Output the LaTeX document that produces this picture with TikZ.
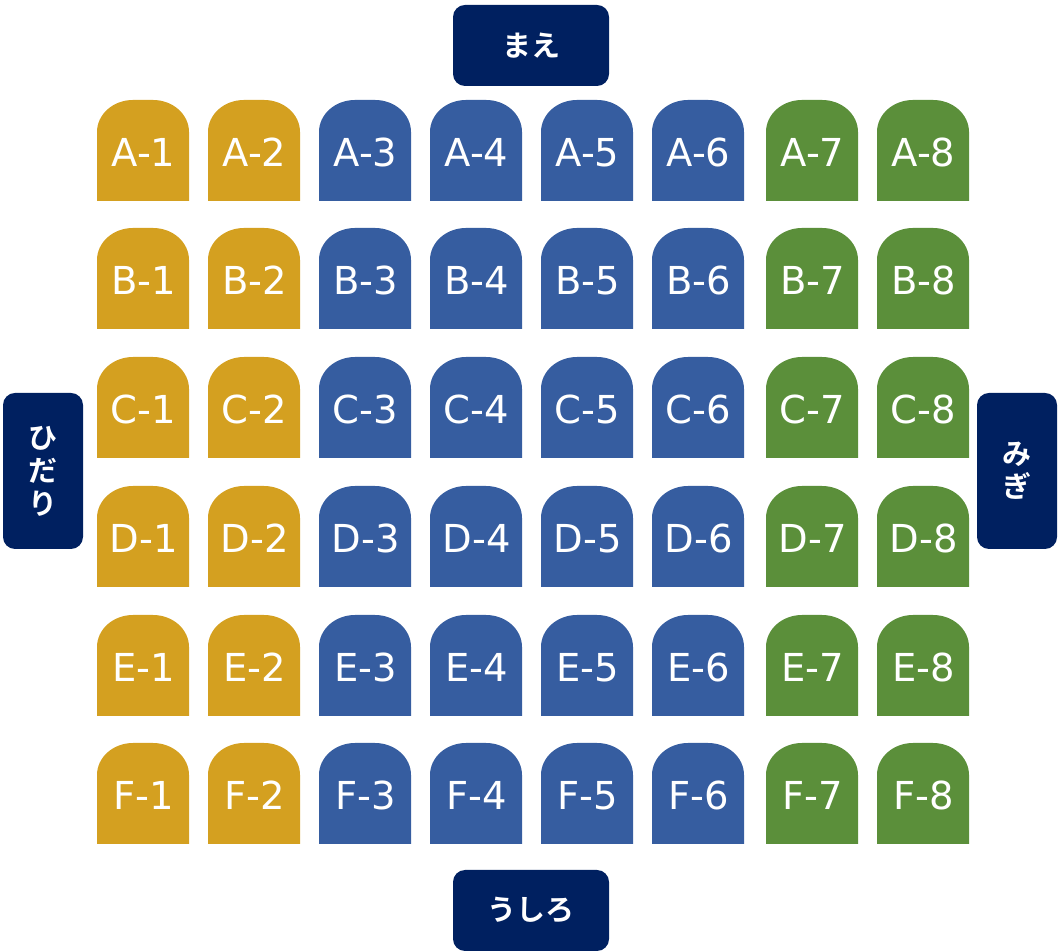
\documentclass[tikz,border=0pt]{standalone}
\usepackage{fontspec}
\setmainfont{DejaVu Sans}
\newfontfamily\jpfont{Noto Sans CJK JP}[BoldFont={Noto Sans CJK JP Bold}]
\definecolor{seatgold}{HTML}{D4A020}
\definecolor{seatblue}{HTML}{365DA0}
\definecolor{seatgreen}{HTML}{5B8F3A}
\definecolor{navy}{HTML}{002060}
\tikzset{
  seattext/.style={text=white,font=\fontsize{38.5}{40}\selectfont,inner sep=0pt,anchor=base},
  navybox/.style={fill=navy,text=white,rounded corners=12pt,font=\jpfont\bfseries\fontsize{29}{33}\selectfont,align=center,inner sep=0pt},
}
\begin{document}
\begin{tikzpicture}[x=1pt,y=1pt]
\useasboundingbox (0,0) rectangle (1062,952);
\foreach \row/\tp [count=\ri] in {A/100,B/228,C/357,D/486,E/615,F/743}{
  \foreach \lx/\col [count=\ci] in {97/seatgold,208/seatgold,319/seatblue,430/seatblue,541/seatblue,652/seatblue,766/seatgreen,877/seatgreen}{
    \pgfmathsetmacro{\T}{952-\tp}
    \pgfmathsetmacro{\B}{\T-101}
    \pgfmathsetmacro{\R}{\lx+92}
    \pgfmathsetmacro{\Rc}{\R-36}
    \pgfmathsetmacro{\Tc}{\T-32}
    \pgfmathsetmacro{\cx}{\lx+46.5}
    \pgfmathsetmacro{\cy}{\T-67}
    \fill[\col] (\lx,\B) -- (\lx,\Tc) arc[start angle=180,end angle=90,x radius=36,y radius=32] -- (\Rc,\T) arc[start angle=90,end angle=0,x radius=36,y radius=32] -- (\R,\B) -- cycle;
    \node[seattext] (\row\ci) at (\cx,\cy) {\row-\ci};
  }
}
\node[navybox,minimum width=156pt,minimum height=81pt] (front) at (531,952-45.5) {まえ};
\node[navybox,minimum width=156pt,minimum height=81pt] (back) at (531,952-910.5) {うしろ};
\node[navybox,minimum width=80pt,minimum height=156pt] (left) at (43,952-471) {ひ\\だ\\り};
\node[navybox,minimum width=80pt,minimum height=156pt] (right) at (1017,952-471) {み\\ぎ};
\end{tikzpicture}
\end{document}
